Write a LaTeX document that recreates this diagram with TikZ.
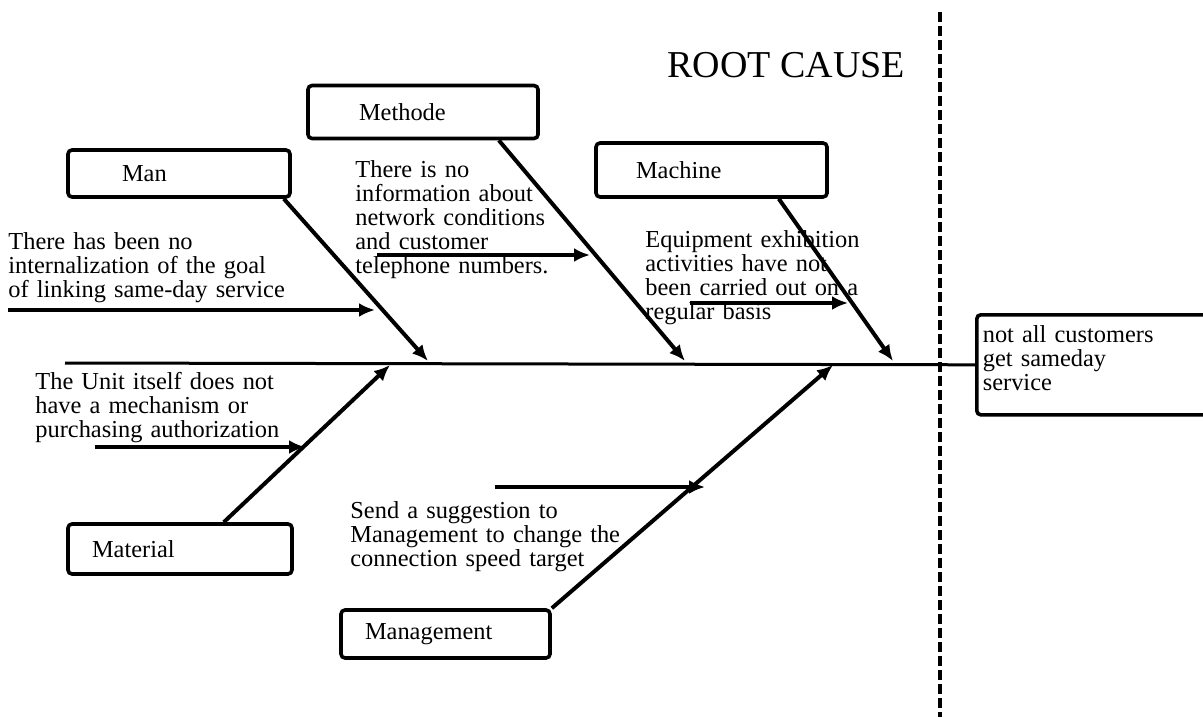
\documentclass[tikz,border=0pt]{standalone}
\usepackage{fontspec}
\setmainfont{Liberation Serif}
\usepackage{tikz}
\usetikzlibrary{arrows.meta, positioning}
\tikzstyle{catbox} = [rectangle, draw, line width=1.8pt, rounded corners=2pt, align=left, inner ysep=0pt, font=\fontsize{12.2pt}{12pt}\selectfont]
\tikzstyle{cause} = [anchor=base west, align=left, inner sep=0pt, font=\fontsize{12.2pt}{12pt}\selectfont]
\tikzstyle{arrow} = [line width=2pt, -{Latex[length=8pt,width=7pt]}]
\tikzstyle{spine} = [line width=1.5pt]

\begin{document}
\begin{tikzpicture}[x=0.5pt, y=-0.5pt]
    \useasboundingbox (0,0) rectangle (1203,717);

    % category boxes
    \node[catbox, text width=57pt, inner xsep=27pt, minimum height=23.5pt] (man) at (179,173.5) {Man};
    \node[catbox, text width=64pt, inner xsep=25.5pt, minimum height=26.5pt] (methode) at (423,112) {Methode};
    \node[catbox, text width=75.5pt, inner xsep=20pt, minimum height=27pt] (machine) at (711.5,170) {Machine};
    \node[catbox, text width=88pt, inner xsep=12pt, minimum height=25pt] (material) at (180,549) {Material};
    \node[catbox, text width=80.5pt, inner xsep=12pt, minimum height=24pt] (management) at (445.5,634) {Management};
    \node[catbox, anchor=north west, text width=120pt, inner xsep=3pt, minimum height=50pt] (effect) at (975,313) {not all customers\\get sameday\\service\rule[-6.3pt]{0pt}{0pt}};

    % spine
    \coordinate (tail) at (65,363);
    \draw[spine] (tail) -- (effect.west);

    % bones
    \coordinate (manhead) at (428,361);
    \coordinate (methodehead) at (685,361);
    \coordinate (machinehead) at (893,361);
    \coordinate (materialhead) at (390,365);
    \coordinate (managementhead) at (833,365);
    \draw[arrow] ([xshift=-4pt]man.south east) -- (manhead);
    \draw[arrow] ([xshift=-20.5pt]methode.south east) -- (methodehead);
    \draw[arrow] ([xshift=-25pt]machine.south east) -- (machinehead);
    \draw[arrow] ([xshift=-35pt]material.north east) -- (materialhead);
    \draw[arrow] (management.north east) -- (managementhead);

    % causes
    \coordinate (mantail) at (8,310);
    \coordinate (mantip) at (375,310);
    \coordinate (methodetail) at (377,255);
    \coordinate (methodetip) at (590,255);
    \coordinate (machinetail) at (690,303);
    \coordinate (machinetip) at (848,303);
    \coordinate (materialtail) at (95,447);
    \coordinate (materialtip) at (305,447);
    \coordinate (managementtail) at (495,487);
    \coordinate (managementtip) at (705,487);
    \draw[arrow] (mantail) -- (mantip);
    \draw[arrow] (methodetail) -- (methodetip);
    \draw[arrow] (machinetail) -- (machinetip);
    \draw[arrow] (materialtail) -- (materialtip);
    \draw[arrow] (managementtail) -- (managementtip);

    \node[cause, text width=160pt] (mantext) at (8,249) {There has been no\\internalization of the goal\\of linking same-day service};
    \node[cause, text width=110pt] (methodetext) at (355,177) {There is no\\information about\\network conditions\\and customer\\telephone numbers.};
    \node[cause, text width=120pt] (machinetext) at (645,247) {Equipment exhibition\\activities have not\\been carried out on a\\regular basis};
    \node[cause, text width=140pt] (materialtext) at (35,389) {The Unit itself does not\\have a mechanism or\\purchasing authorization};
    \node[cause, text width=140pt] (managementtext) at (350,518) {Send a suggestion to\\Management to change the\\connection speed target};

    % root cause divider
    \coordinate (dashtop) at (940,12);
    \coordinate (dashbottom) at (940,717);
    \draw[line width=2pt, dash pattern=on 5pt off 2pt] (dashtop) -- (dashbottom);
    \node[anchor=base west, inner sep=0pt, font=\fontsize{19pt}{22pt}\selectfont] (rootcause) at (667,77) {ROOT CAUSE};
\end{tikzpicture}
\end{document}
